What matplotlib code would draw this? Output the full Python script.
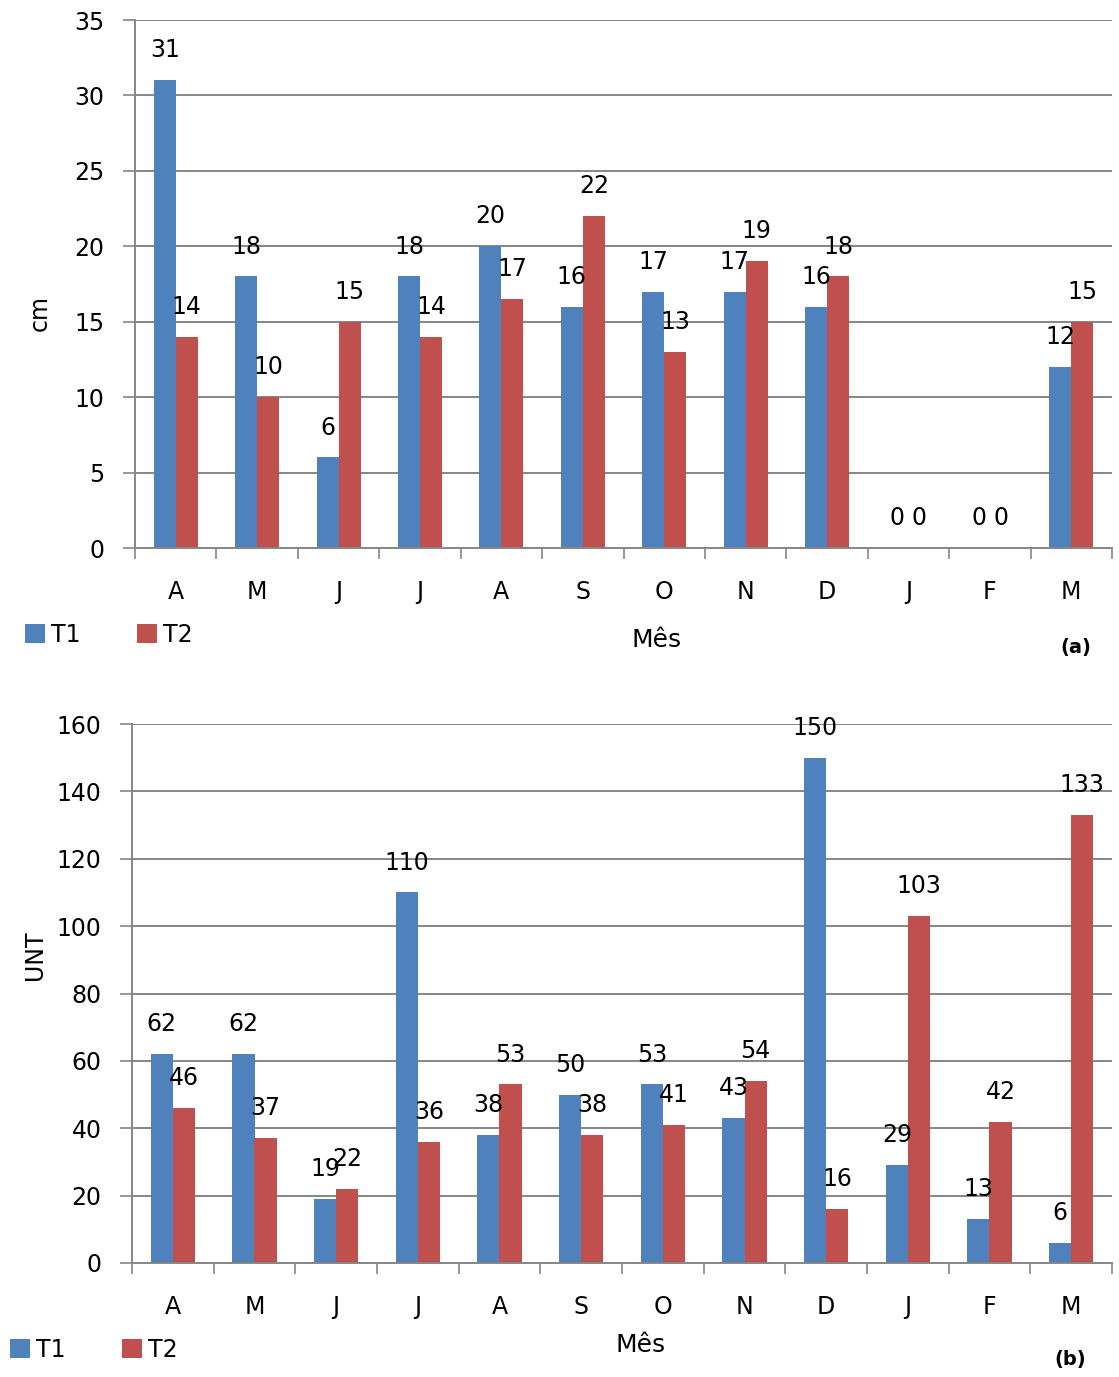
import matplotlib.pyplot as plt
import numpy as np

# meses (abril a março)
meses = ['A', 'M', 'J', 'J', 'A', 'S', 'O', 'N', 'D', 'J', 'F', 'M']

# (a) cm
t1_cm = [31, 18, 6, 18, 20, 16, 17, 17, 16, 0, 0, 12]
t2_cm = [14, 10, 15, 14, 16.5, 22, 13, 19, 18, 0, 0, 15]

# (b) UNT
t1_unt = [62, 62, 19, 110, 38, 50, 53, 43, 150, 29, 13, 6]
t2_unt = [46, 37, 22, 36, 53, 38, 41, 54, 16, 103, 42, 133]

AZUL = '#4F81BD'
VERMELHO = '#C0504D'
CINZA = '#868686'
FS = 17

plt.rcParams['font.family'] = 'DejaVu Sans'

fig = plt.figure(figsize=(11.19, 13.77), dpi=100)


def painel(rect, t1, t2, ymax, ystep, ylabel, ylab_pos, mes_pos, leg_pos, tag, tag_pos):
    ax = fig.add_axes(rect)
    x = np.arange(len(meses))
    w = 0.27
    b1 = ax.bar(x - w / 2, t1, w, color=AZUL, zorder=3)
    b2 = ax.bar(x + w / 2, t2, w, color=VERMELHO, zorder=3)
    for bars, vals in [(b1, t1), (b2, t2)]:
        for b, v in zip(bars, vals):
            ax.annotate(f'{int(v + 0.5)}', (b.get_x() + b.get_width() / 2, v),
                        xytext=(0, 16.5), textcoords='offset points',
                        ha='center', va='baseline', fontsize=FS, zorder=4)
    ax.set_xlim(-0.5, len(meses) - 0.5)
    ax.set_ylim(0, ymax)
    ax.set_yticks(np.arange(0, ymax + 1, ystep))
    ax.set_xticks(x)
    ax.set_xticklabels(meses, fontsize=FS)
    ax.set_xticks(np.arange(-0.5, len(meses)), minor=True)
    ax.tick_params(axis='x', which='major', length=0, pad=23)
    ax.tick_params(axis='x', which='minor', length=8, width=1.2, color=CINZA)
    ax.tick_params(axis='y', length=9, width=1.2, color=CINZA, pad=13, labelsize=FS)
    ax.yaxis.grid(True, color=CINZA, linewidth=1.4, zorder=0)
    ax.set_axisbelow(True)
    for s in ['top', 'right']:
        ax.spines[s].set_visible(False)
    for s in ['left', 'bottom']:
        ax.spines[s].set_color(CINZA)
        ax.spines[s].set_linewidth(1.4)
        ax.spines[s].set_zorder(5)
    fig.text(ylab_pos[0], ylab_pos[1], ylabel, rotation=90, ha='center', va='center', fontsize=FS)
    fig.text(mes_pos[0], mes_pos[1], 'Mês', ha='center', va='center', fontsize=FS + 1)
    fig.text(tag_pos[0], tag_pos[1], tag, ha='center', va='center', fontsize=14, fontweight='bold')
    fig.legend([b1, b2], ['T1', 'T2'], loc='center left', bbox_to_anchor=leg_pos,
               ncol=2, frameon=False, fontsize=FS, handlelength=0.85, handleheight=0.85,
               handletextpad=0.25, columnspacing=2.4, borderaxespad=0, borderpad=0)
    return ax


painel([135 / 1119, 1 - 548 / 1377, 977 / 1119, 528 / 1377], t1_cm, t2_cm, 35, 5, 'cm',
       (40 / 1119, 1 - 313 / 1377), (657 / 1119, 1 - 640 / 1377), (25 / 1119, 1 - 635 / 1377),
       '(a)', (1076 / 1119, 1 - 648 / 1377))

painel([132 / 1119, 1 - 1263 / 1377, 980 / 1119, 539 / 1377], t1_unt, t2_unt, 160, 20, 'UNT',
       (35 / 1119, 1 - 955 / 1377), (641 / 1119, 1 - 1345 / 1377), (10 / 1119, 1 - 1350 / 1377),
       '(b)', (1070 / 1119, 1 - 1360 / 1377))

fig.savefig('out.png', dpi=100)
